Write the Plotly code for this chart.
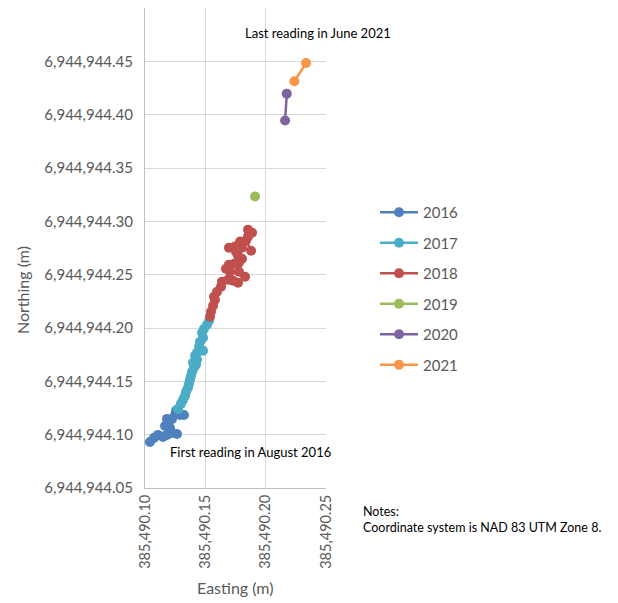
import plotly.graph_objects as go

# Survey readings per year, easting / northing (m)
e_2016 = [385490.1041, 385490.1075, 385490.1108, 385490.1149, 385490.1182, 385490.1224,
          385490.1265, 385490.1207, 385490.1166, 385490.1199, 385490.1224, 385490.1182,
          385490.1249, 385490.1290, 385490.1323, 385490.1274, 385490.1257]
n_2016 = [6944944.0932, 6944944.0970, 6944944.0998, 6944944.0979, 6944944.0998, 6944944.1016,
          6944944.1007, 6944944.1063, 6944944.1082, 6944944.1120, 6944944.1148, 6944944.1148,
          6944944.1185, 6944944.1185, 6944944.1185, 6944944.1232, 6944944.1223]

e_2017 = [385490.1274, 385490.1298, 385490.1315, 385490.1332, 385490.1340, 385490.1356,
          385490.1365, 385490.1373, 385490.1381, 385490.1390, 385490.1406, 385490.1423,
          385490.1398, 385490.1431, 385490.1415, 385490.1431, 385490.1481, 385490.1448,
          385490.1456, 385490.1481, 385490.1473, 385490.1489, 385490.1514, 385490.1531]
n_2017 = [6944944.1242, 6944944.1289, 6944944.1326, 6944944.1364, 6944944.1401, 6944944.1439,
          6944944.1477, 6944944.1514, 6944944.1552, 6944944.1589, 6944944.1627, 6944944.1655,
          6944944.1674, 6944944.1702, 6944944.1740, 6944944.1768, 6944944.1786, 6944944.1824,
          6944944.1871, 6944944.1909, 6944944.1955, 6944944.1993, 6944944.2031, 6944944.2068]

e_2018 = [385490.1539, 385490.1547, 385490.1564, 385490.1580, 385490.1572, 385490.1597,
          385490.1630, 385490.1638, 385490.1688, 385490.1730, 385490.1771, 385490.1829,
          385490.1779, 385490.1705, 385490.1671, 385490.1696, 385490.1738, 385490.1779,
          385490.1804, 385490.1771, 385490.1754, 385490.1696, 385490.1746, 385490.1804,
          385490.1879, 385490.1837, 385490.1788, 385490.1854, 385490.1887, 385490.1854]
n_2018 = [6944944.2106, 6944944.2153, 6944944.2209, 6944944.2265, 6944944.2293, 6944944.2340,
          6944944.2387, 6944944.2434, 6944944.2453, 6944944.2444, 6944944.2425, 6944944.2481,
          6944944.2528, 6944944.2528, 6944944.2556, 6944944.2594, 6944944.2603, 6944944.2613,
          6944944.2650, 6944944.2678, 6944944.2716, 6944944.2753, 6944944.2763, 6944944.2753,
          6944944.2725, 6944944.2819, 6944944.2810, 6944944.2857, 6944944.2894, 6944944.2922]

e_2019 = [385490.1912]
n_2019 = [6944944.3233]

e_2020 = [385490.2161, 385490.2175]
n_2020 = [6944944.3946, 6944944.4197]

e_2021 = [385490.2238, 385490.2335]
n_2021 = [6944944.4313, 6944944.4484]

x_ticks = [385490.10, 385490.15, 385490.20, 385490.25]
y_ticks = [6944944.05, 6944944.10, 6944944.15, 6944944.20, 6944944.25,
           6944944.30, 6944944.35, 6944944.40, 6944944.45]

series = [
    ('2016', e_2016, n_2016, '#4F81BD'),
    ('2017', e_2017, n_2017, '#4BACC6'),
    ('2018', e_2018, n_2018, '#C0504D'),
    ('2019', e_2019, n_2019, '#9BBB59'),
    ('2020', e_2020, n_2020, '#8064A2'),
    ('2021', e_2021, n_2021, '#F79646'),
]

FONT = 'Lato'
GREY = '#595959'
OFF = 8  # page body margin of the html

fig = go.Figure()
for name, e, n, col in series:
    fig.add_trace(go.Scatter(x=e, y=n, name=name, mode='lines+markers', legendgroup=name,
                             line=dict(color=col, width=2.5),
                             marker=dict(color=col, size=10)))

# plot area on the page in pixels: x 145..326, y 8..488
def px(x):
    return (x - 145) / 181.0

def py(y):
    return (488 - y) / 480.0

def label(text, x, y, size, color, angle=0, **kw):
    fig.add_annotation(text=text, x=px(x), y=py(y), xref='paper', yref='paper',
                       showarrow=False, textangle=angle,
                       font=dict(family=FONT, size=size, color=color), **kw)

label('Last reading in June 2021', 318, 33, 13, 'black', xanchor='center', yanchor='middle')
label('First reading in August 2016', 250, 452, 13, 'black', xanchor='center', yanchor='middle')
label('Notes:<br>Coordinate system is NAD 83 UTM Zone 8.', 361, 502, 12.5, 'black',
      xanchor='left', yanchor='top', align='left')
label('Northing (m)', 22, 290, 16, GREY, angle=-90, xanchor='center', yanchor='middle')
label('Easting (m)', 235, 587, 16, GREY, xanchor='center', yanchor='middle')

fig.update_layout(
    width=618 - OFF, height=603 - OFF,
    margin=dict(l=145 - OFF, r=618 - 326, t=0, b=603 - 488),
    paper_bgcolor='white', plot_bgcolor='white',
    font=dict(family=FONT, color=GREY),
    showlegend=True,
    legend=dict(x=px(375), y=py(196), xanchor='left', yanchor='top',
                font=dict(size=15, color=GREY), tracegroupgap=8, itemwidth=38),
    xaxis=dict(range=[385490.10, 385490.25], tickvals=x_ticks, tickformat=',.2f',
               tickangle=-90, tickfont=dict(size=14.5, color=GREY),
               showgrid=True, gridcolor='#d9d9d9', gridwidth=1,
               showline=True, linecolor='#bfbfbf', zeroline=False, ticks=''),
    yaxis=dict(range=[6944944.05, 6944944.50], tickvals=y_ticks, tickformat=',.2f',
               tickfont=dict(size=15, color=GREY), ticklabelstandoff=8,
               showgrid=True, gridcolor='#d9d9d9', gridwidth=1,
               showline=True, linecolor='#bfbfbf', zeroline=False, ticks=''),
)

fig.write_html('out.html')
